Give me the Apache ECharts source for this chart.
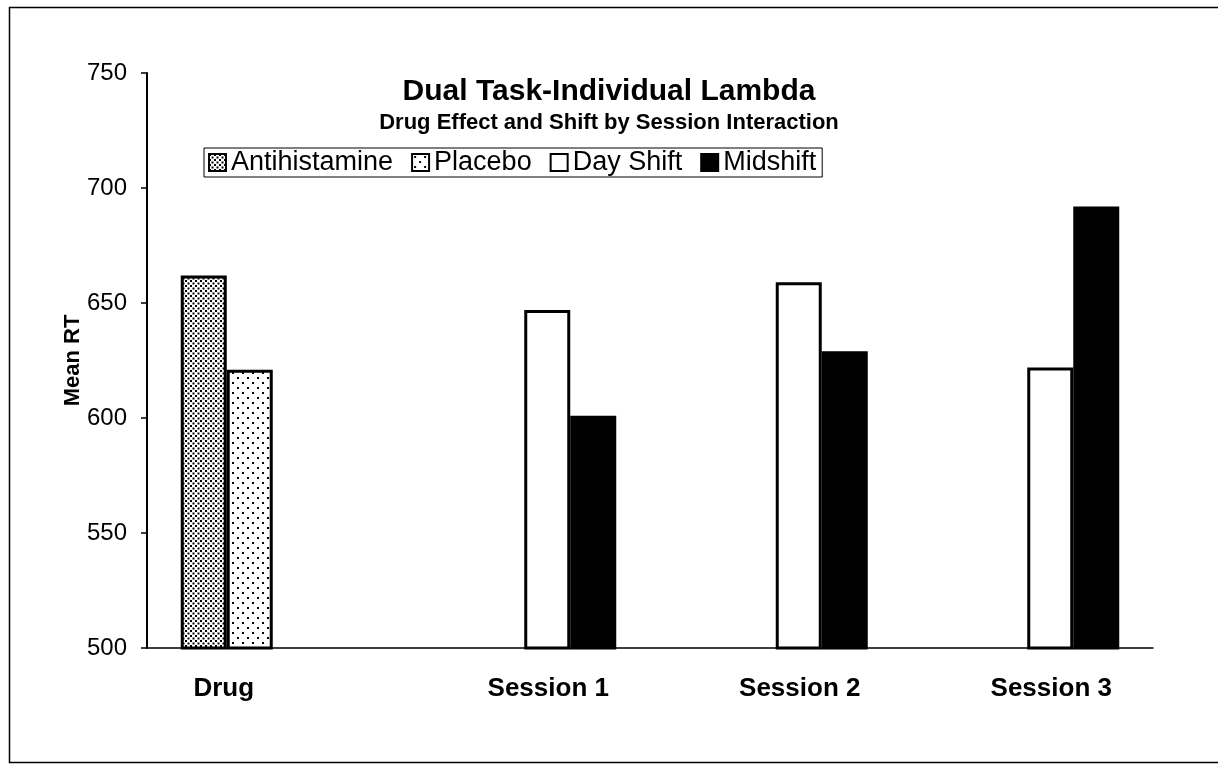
<!DOCTYPE html>
<html>
<head>
<meta charset="utf-8">
<script src="https://cdn.jsdelivr.net/npm/echarts@6/dist/echarts.min.js"></script>
<style>
html, body { margin: 0; padding: 0; background: #fff; }
#chart { width: 1218px; height: 765px; }
</style>
</head>
<body>
<div id="chart"></div>
<script>
// data
var categories = ['Drug', 'Session 1', 'Session 2', 'Session 3'];
var seriesNames = ['Antihistamine', 'Placebo', 'Day Shift', 'Midshift'];
var antihistamine = [662, null, null, null];
var placebo = [621, null, null, null];
var dayShift = [null, 647, 659, 622];
var midshift = [null, 601, 629, 692];
var yMin = 500, yMax = 750, yStep = 50;

var FONT = '"Liberation Sans", Arial, sans-serif';

// dotted fills
function dots(w, h, pts, r) {
    var c = document.createElement('canvas');
    c.width = w; c.height = h;
    var g = c.getContext('2d');
    g.fillStyle = '#fff';
    g.fillRect(0, 0, w, h);
    g.fillStyle = '#000';
    pts.forEach(function (p) { g.fillRect(p[0], p[1], r, r); });
    return { image: c, repeat: 'repeat' };
}
var densePattern = dots(5, 5, [[0, 0], [2.5, 2.5]], 2);
var sparsePattern = dots(10, 10, [[2, 2], [7, 7]], 2);

var fills = [densePattern, sparsePattern, '#fff', '#000'];
var values = [antihistamine, placebo, dayShift, midshift];

var chart = echarts.init(document.getElementById('chart'));
var option = {
    backgroundColor: '#fff',
    animation: false,
    textStyle: { fontFamily: FONT, color: '#000' },
    graphic: [{
        type: 'rect',
        left: 7, top: 5,
        shape: { width: 1240, height: 755 },
        style: { fill: 'none', stroke: '#000', lineWidth: 1.5 },
        z: -1
    }],
    title: {
        text: 'Dual Task-Individual Lambda',
        subtext: 'Drug Effect and Shift by Session Interaction',
        left: 'center',
        top: 72,
        itemGap: 5,
        textStyle: { fontFamily: FONT, fontSize: 30, fontWeight: 'bold', color: '#000' },
        subtextStyle: { fontFamily: FONT, fontSize: 22, fontWeight: 'bold', color: '#000' }
    },
    legend: {
        data: seriesNames,
        left: 204,
        top: 148,
        icon: 'rect',
        itemWidth: 17,
        itemHeight: 17,
        itemGap: 18,
        padding: [1, 6, 1, 4],
        borderColor: '#000',
        borderWidth: 1,
        textStyle: { fontFamily: FONT, fontSize: 27, color: '#000' }
    },
    grid: {
        left: 147,
        right: 65,
        top: 73,
        bottom: 117,
        containLabel: false
    },
    xAxis: {
        type: 'category',
        data: categories,
        axisLine: { lineStyle: { color: '#000', width: 1.5 } },
        axisTick: { show: false },
        axisLabel: {
            interval: 0,
            margin: 28,
            formatter: function (v) {
                return v === 'Drug' ? '{d|' + v + '}' : '{s|' + v + '}';
            },
            rich: {
                d: { fontFamily: FONT, fontSize: 26, fontWeight: 'bold', color: '#000', padding: [0, 98, 0, 0] },
                s: { fontFamily: FONT, fontSize: 26, fontWeight: 'bold', color: '#000', padding: [0, 0, 0, 48] }
            }
        }
    },
    yAxis: {
        type: 'value',
        min: yMin,
        max: yMax,
        interval: yStep,
        name: 'Mean RT',
        nameLocation: 'middle',
        nameGap: 63,
        nameMoveOverlap: false,
        nameTextStyle: { fontFamily: FONT, fontSize: 22, fontWeight: 'bold', color: '#000' },
        axisLine: { show: true, lineStyle: { color: '#000', width: 2 } },
        axisTick: { show: true, length: 6, lineStyle: { color: '#000', width: 1.5 } },
        axisLabel: { fontFamily: FONT, fontSize: 24, color: '#000', margin: 20 },
        splitLine: { show: false }
    },
    series: seriesNames.map(function (name, i) {
        return {
            name: name,
            type: 'bar',
            data: values[i],
            barWidth: 46,
            barGap: '0%',
            itemStyle: { color: fills[i], borderColor: '#000', borderWidth: 3 }
        };
    })
};
chart.setOption(option);
</script>
</body>
</html>
